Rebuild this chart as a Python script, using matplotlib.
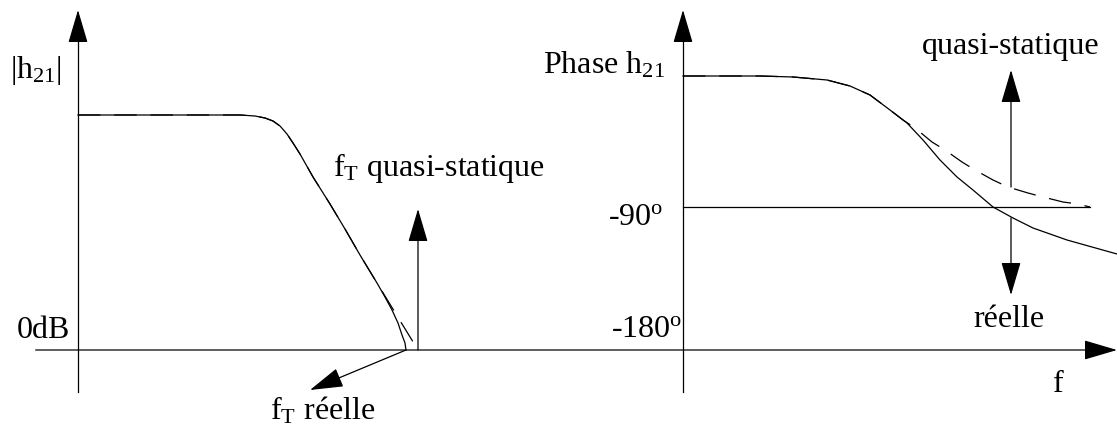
import matplotlib.pyplot as plt

plt.rcParams['font.family'] = ['Liberation Serif', 'DejaVu Serif']
plt.rcParams['mathtext.fontset'] = 'custom'
plt.rcParams['mathtext.rm'] = 'Liberation Serif'
plt.rcParams['mathtext.it'] = 'Liberation Serif:italic'

# Drawing coordinates: x to the right, y downwards (same scale on both)
W, H = 1117, 434

# Gain |h21| : real curve and quasi-static asymptote
mag_x = [78, 240, 255, 265, 273, 280, 287, 293, 300, 313, 330, 345, 360, 377,
         385, 392, 398, 402, 405, 406]
mag_real = [115, 115, 116, 118, 121, 126, 134, 143, 154, 177, 204, 229, 255, 283,
            297, 310, 323, 335, 343, 350]
mag_qs_x = [78, 240, 255, 265, 273, 280, 287, 293, 300, 313, 330, 345, 360, 377, 418]
mag_qs = [115, 115, 116, 118, 121, 126, 134, 143, 154, 177, 204, 229, 255, 283, 350]

# Phase h21 : real curve and quasi-static curve
ph_x = [683, 760, 793, 827, 850, 870, 890, 907, 923, 940, 957, 973, 993, 1013,
        1033, 1067, 1117]
ph_real = [76, 76, 77, 80, 86, 95, 110, 123, 140, 160, 177, 190, 207, 218,
           228, 240, 254]
ph_qs_x = [683, 760, 793, 827, 850, 870, 890, 903, 915, 932, 945, 962, 975, 993,
           1008, 1028, 1043, 1063, 1078, 1090]
ph_qs = [76, 76, 77, 80, 86, 95, 110, 120, 128, 142, 150, 162, 170, 180,
         187, 193, 197, 202, 204, 207]

# levels
y_0db = 350
y_m90 = 207
x_gain_axis = 78
x_phase_axis = 683

fig = plt.figure(figsize=(W / 100, H / 100), dpi=100)
ax = fig.add_axes([0, 0, 1, 1])
ax.set_xlim(0, W)
ax.set_ylim(H, 0)
ax.axis('off')

lw = 0.9


def arrow(x0, y0, x1, y1):
    ax.annotate('', xy=(x1, y1), xytext=(x0, y0),
                arrowprops=dict(arrowstyle='-|>,head_length=21,head_width=6.2',
                                mutation_scale=1, color='black', lw=lw,
                                shrinkA=0, shrinkB=0))


# axes of both diagrams
ax.plot([36, W - 20], [y_0db, y_0db], color='#333333', lw=1.1)
arrow(W - 20, y_0db, W, y_0db)
ax.plot([x_gain_axis, x_gain_axis], [392, 40], color='black', lw=lw)
arrow(x_gain_axis, 40, x_gain_axis, 10)
ax.plot([x_phase_axis, x_phase_axis], [392, 40], color='black', lw=lw)
arrow(x_phase_axis, 40, x_phase_axis, 10)
ax.plot([x_phase_axis, 1090], [y_m90, y_m90], color='black', lw=lw)

# curves
ax.plot(mag_qs_x, mag_qs, color='black', lw=lw, dashes=(18, 11))
ax.plot(mag_x, mag_real, color='black', lw=lw)
ax.plot(ph_qs_x, ph_qs, color='black', lw=lw, dashes=(18, 11))
ax.plot(ph_x, ph_real, color='black', lw=lw)

# f_T markers
arrow(418, y_0db, 418, 209)
arrow(406, y_0db, 310, 390)
arrow(1011, 187, 1011, 70)
arrow(1011, 218, 1011, 295)

fs = 23
txt = dict(fontsize=fs, ha='left', va='baseline', color='black')
ax.text(10, 78, r'|h$_{21}$|', **txt)
ax.text(17, 338, '0dB', **txt)
ax.text(333, 176, r'f$_\mathrm{T}$ quasi-statique', **txt)
ax.text(270, 420, r'f$_\mathrm{T}$ réelle', **txt)
ax.text(543, 73, r'Phase h$_{21}$', **txt)
ax.text(608, 225, r'-90$^\mathrm{o}$', **txt)
ax.text(611, 337, r'-180$^\mathrm{o}$', **txt)
ax.text(922, 54, 'quasi-statique', **txt)
ax.text(973, 327, 'réelle', **txt)
ax.text(1053, 392, 'f', **txt)

fig.savefig('out.png', dpi=100)
